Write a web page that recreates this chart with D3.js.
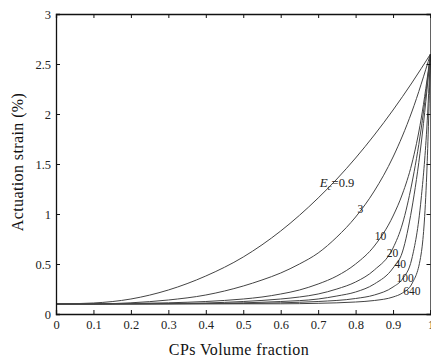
<!DOCTYPE html>
<html>
<head>
<meta charset="utf-8">
<script src="https://cdn.jsdelivr.net/npm/d3@7"></script>
<style>
  body { margin: 0; background: #fff; }
  text { font-family: "Liberation Serif", "DejaVu Serif", serif; }
</style>
</head>
<body>
<div id="chart"></div>
<script>
// data
var ratios = ["0.9", "3", "10", "20", "40", "100", "640"];

var fraction = [
  [0, 0.1, 0.2, 0.3, 0.4, 0.5, 0.6, 0.7, 0.75, 0.8, 0.85, 0.9, 0.95, 1],
  [0, 0.1, 0.2, 0.3, 0.4, 0.5, 0.55, 0.6, 0.65, 0.7, 0.75, 0.8, 0.85, 0.9, 0.95, 1],
  [0, 0.2, 0.3, 0.4, 0.5, 0.55, 0.6, 0.65, 0.7, 0.75, 0.8, 0.85, 0.9, 0.925, 0.95, 0.975, 1],
  [0, 0.3, 0.4, 0.5, 0.6, 0.65, 0.7, 0.75, 0.8, 0.85, 0.9, 0.925, 0.95, 0.975, 1],
  [0, 0.4, 0.5, 0.6, 0.7, 0.75, 0.8, 0.85, 0.9, 0.925, 0.95, 0.975, 1],
  [0, 0.5, 0.6, 0.7, 0.8, 0.85, 0.9, 0.925, 0.95, 0.975, 0.99, 1],
  [0, 0.6, 0.7, 0.8, 0.85, 0.9, 0.925, 0.95, 0.975, 0.99, 1]
];

var strain = [
  [0.1, 0.11, 0.15, 0.24, 0.38, 0.57, 0.83, 1.16, 1.35, 1.56, 1.79, 2.04, 2.31, 2.6],
  [0.1, 0.1, 0.112, 0.14, 0.19, 0.28, 0.34, 0.41, 0.5, 0.61, 0.77, 0.97, 1.23, 1.57, 2.02, 2.6],
  [0.1, 0.105, 0.112, 0.125, 0.15, 0.17, 0.2, 0.24, 0.3, 0.38, 0.5, 0.68, 0.98, 1.2, 1.5, 1.95, 2.6],
  [0.1, 0.104, 0.11, 0.125, 0.15, 0.17, 0.2, 0.25, 0.32, 0.44, 0.66, 0.9, 1.3, 1.85, 2.6],
  [0.1, 0.105, 0.112, 0.125, 0.15, 0.18, 0.22, 0.3, 0.46, 0.62, 1.05, 1.7, 2.6],
  [0.1, 0.105, 0.112, 0.125, 0.155, 0.19, 0.27, 0.35, 0.55, 1.15, 1.85, 2.6],
  [0.1, 0.102, 0.107, 0.12, 0.135, 0.17, 0.21, 0.3, 0.6, 1.4, 2.6]
];

// where each curve label sits, in data units
var labelX = [0.704, 0.805, 0.851, 0.883, 0.904, 0.909, 0.927];
var labelY = [1.27, 1.01, 0.74, 0.57, 0.46, 0.32, 0.19];

var xTicks = [0, 0.1, 0.2, 0.3, 0.4, 0.5, 0.6, 0.7, 0.8, 0.9, 1];
var yTicks = [0, 0.5, 1, 1.5, 2, 2.5, 3];

var width = 431, height = 363;
var margin = { top: 14, right: 0.5, bottom: 49, left: 56 };

var svg = d3.select("#chart").append("svg")
  .attr("width", width)
  .attr("height", height);

var x = d3.scaleLinear().domain([0, 1]).range([margin.left, width - margin.right]);
var y = d3.scaleLinear().domain([0, 3]).range([height - margin.bottom, margin.top]);

// curves
var line = d3.line()
  .x(function(d) { return x(d[0]); })
  .y(function(d) { return y(d[1]); })
  .curve(d3.curveMonotoneX);

var curves = ratios.map(function(r, i) {
  return fraction[i].map(function(f, j) { return [f, strain[i][j]]; });
});

svg.append("g")
  .selectAll("path")
  .data(curves)
  .join("path")
  .attr("d", line)
  .attr("fill", "none")
  .attr("stroke", "#444")
  .attr("stroke-width", 1);

// axes, ticks inward on all four sides
var axisColor = "#111";
svg.append("g")
  .attr("transform", "translate(0," + y(0) + ")")
  .call(d3.axisBottom(x).tickValues(xTicks).tickSize(-4).tickPadding(6)
    .tickFormat(function(d) { return d === 0 ? "0" : d3.format("")(d); }))
  .call(function(g) { g.selectAll("text").attr("font-size", 12.5).attr("fill", "#222"); });

svg.append("g")
  .attr("transform", "translate(0," + y(3) + ")")
  .call(d3.axisTop(x).tickValues(xTicks).tickSize(-4).tickFormat(""));

svg.append("g")
  .attr("transform", "translate(" + x(0) + ",0)")
  .call(d3.axisLeft(y).tickValues(yTicks).tickSize(-4).tickPadding(5)
    .tickFormat(function(d) { return d; }))
  .call(function(g) { g.selectAll("text").attr("font-size", 12.5).attr("fill", "#222"); });

svg.append("g")
  .attr("transform", "translate(" + x(1) + ",0)")
  .call(d3.axisRight(y).tickValues(yTicks).tickSize(-4).tickFormat(""));

svg.selectAll(".domain").attr("stroke", axisColor).attr("stroke-width", 1.3);
svg.selectAll(".tick line").attr("stroke", axisColor);

// curve labels
var labels = svg.append("g").attr("font-size", 11.5).attr("fill", "#222");
ratios.forEach(function(r, i) {
  var t = labels.append("text")
    .attr("x", x(labelX[i]))
    .attr("y", y(labelY[i]));
  if (i === 0) {
    t.append("tspan").attr("font-style", "italic").attr("font-size", 13).text("E");
    t.append("tspan").attr("dy", 3).attr("font-size", 9).attr("font-style", "italic").text("c");
    t.append("tspan").attr("dy", -3).attr("font-size", 12.5).text("=" + r);
  } else {
    t.text(r);
  }
});

// axis titles
svg.append("text")
  .attr("x", 239)
  .attr("y", 355)
  .attr("text-anchor", "middle")
  .attr("font-size", 16)
  .attr("letter-spacing", 0.4)
  .attr("fill", "#111")
  .text("CPs Volume fraction");

svg.append("text")
  .attr("transform", "translate(23," + 162 + ") rotate(-90)")
  .attr("text-anchor", "middle")
  .attr("font-size", 16)
  .attr("letter-spacing", 0.4)
  .attr("fill", "#111")
  .text("Actuation strain (%)");
</script>
</body>
</html>
